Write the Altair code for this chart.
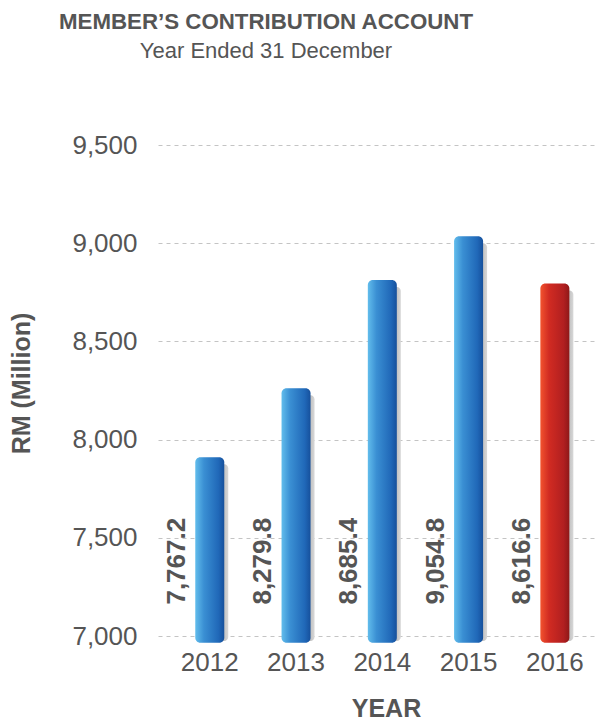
import altair as alt
import pandas as pd

# Data
years = ["2012", "2013", "2014", "2015", "2016"]
bar_tops = [7910, 8262, 8812, 9035, 8795]          # bar heights as drawn (RM million)
labels = ["7,767.2", "8,279.8", "8,685.4", "9,054.8", "8,616.6"]  # printed values
highlight = [False, False, False, False, True]
y_ticks = [7000, 7500, 8000, 8500, 9000, 9500]

df = pd.DataFrame({"year": years, "top": bar_tops, "label": labels, "hl": highlight})

FONT = "Liberation Sans"
TXT = "#555555"

blue = alt.Gradient(
    gradient="linear", x1=0, x2=1, y1=0, y2=0,
    stops=[
        alt.GradientStop(color="#62bdec", offset=0),
        alt.GradientStop(color="#3a8fd3", offset=0.3),
        alt.GradientStop(color="#2068b8", offset=0.8),
        alt.GradientStop(color="#16509c", offset=1),
    ],
)
red = alt.Gradient(
    gradient="linear", x1=0, x2=1, y1=0, y2=0,
    stops=[
        alt.GradientStop(color="#f2532e", offset=0),
        alt.GradientStop(color="#d12b22", offset=0.3),
        alt.GradientStop(color="#b11f20", offset=0.8),
        alt.GradientStop(color="#8e1818", offset=1),
    ],
)
shadow = alt.Gradient(
    gradient="linear", x1=0, x2=1, y1=0, y2=0,
    stops=[
        alt.GradientStop(color="#6a6a6a", offset=0),
        alt.GradientStop(color="#9a9a9a", offset=0.6),
        alt.GradientStop(color="#d8d8d8", offset=1),
    ],
)

x_enc = alt.X(
    "year:N",
    sort=years,
    scale=alt.Scale(paddingInner=0, paddingOuter=0.05, align=1),
    axis=alt.Axis(
        title="YEAR", labelAngle=0, domain=False, ticks=False, tickSize=0,
        labelFontSize=26, labelFont=FONT, labelColor=TXT, labelPadding=13,
        titleFontSize=25, titleFont=FONT, titleColor=TXT, titleFontWeight="bold",
        titleBaseline="alphabetic", titleY=80, titleX=228,
    ),
)
y_enc = alt.Y(
    "top:Q",
    scale=alt.Scale(domain=[7000, 9500], nice=False, zero=False),
    axis=alt.Axis(
        title="RM (Million)", values=y_ticks, format=",.0f", domain=False,
        ticks=False, tickSize=0, grid=True, gridColor="#c4c4c4", gridDash=[4, 4],
        gridWidth=1, labelFontSize=26, labelFont=FONT, labelColor=TXT,
        labelPadding=21, titleFontSize=25, titleFont=FONT, titleColor=TXT,
        titleFontWeight="bold", titleBaseline="alphabetic", titleAngle=270,
        titleX=-129, titleY=238, titleAlign="center",
    ),
)

base = alt.Chart(df)

shadow_bars = base.mark_bar(
    size=29, xOffset=4, yOffset=7, color=shadow, cornerRadius=4
).encode(x=x_enc, y=y_enc, y2=alt.datum(6975))

blue_bars = base.transform_filter("!datum.hl").mark_bar(
    size=29, color=blue, cornerRadius=5
).encode(x=x_enc, y=y_enc, y2=alt.datum(6965))

red_bars = base.transform_filter("datum.hl").mark_bar(
    size=29, color=red, cornerRadius=5
).encode(x=x_enc, y=y_enc, y2=alt.datum(6965))

text = base.mark_text(
    angle=270, align="left", baseline="middle", fontSize=26, fontWeight="bold",
    font=FONT, color=TXT, xOffset=-33,
).encode(x=x_enc, y=alt.datum(7160), text="label:N")

chart = (
    alt.layer(shadow_bars, blue_bars, red_bars, text)
    .properties(
        width=440, height=491,
        autosize=alt.AutoSizeParams(type="none"),
        padding={"left": 150, "top": 137, "right": 2, "bottom": 86},
        title=alt.TitleParams(
            text="MEMBER’S CONTRIBUTION ACCOUNT",
            subtitle="Year Ended 31 December",
            fontSize=22.3, subtitleFontSize=22, font=FONT, subtitleFont=FONT,
            fontWeight="bold", subtitleFontWeight="normal",
            color=TXT, subtitleColor=TXT, anchor="middle", frame="group",
            dx=-112, offset=70, subtitlePadding=8,
        ),
    )
    .configure_view(stroke=None)
)

chart.save("out.html", embed_options={"renderer": "svg", "actions": False})
